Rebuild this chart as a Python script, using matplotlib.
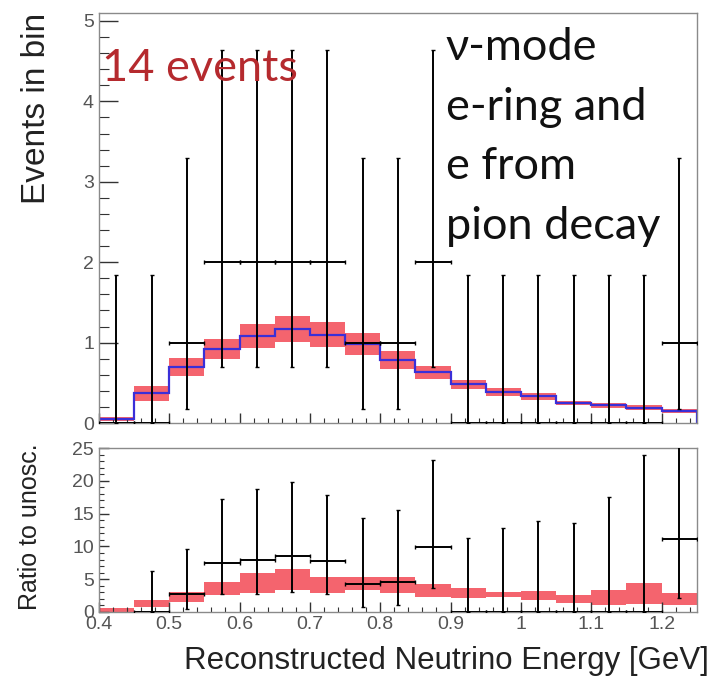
import numpy as np
import matplotlib

matplotlib.use("Agg")
import matplotlib.pyplot as plt  # noqa: E402
from matplotlib.ticker import MultipleLocator, FormatStrFormatter  # noqa: E402

# binning: 0.05 GeV bins from 0.4 to 1.25
edges = np.round(np.arange(0.40, 1.2501, 0.05), 3)
centers = (edges[:-1] + edges[1:]) / 2

# top panel: observed events and prediction
counts = [0, 0, 1, 2, 2, 2, 2, 1, 1, 2, 0, 0, 0, 0, 0, 0, 1]
count_lo = [0, 0, 0.17, 0.7, 0.7, 0.7, 0.7, 0.17, 0.17, 0.7, 0, 0, 0, 0, 0, 0, 0.17]
count_hi = [1.84, 1.84, 3.3, 4.64, 4.64, 4.64, 4.64, 3.3, 3.3, 4.64,
            1.84, 1.84, 1.84, 1.84, 1.84, 1.84, 3.3]
pred = [0.05, 0.37, 0.70, 0.92, 1.08, 1.17, 1.10, 0.98, 0.78, 0.63,
        0.48, 0.39, 0.33, 0.25, 0.22, 0.19, 0.15]
pred_err = [0.02, 0.09, 0.11, 0.13, 0.15, 0.16, 0.15, 0.14, 0.11, 0.08,
            0.06, 0.05, 0.04, 0.03, 0.03, 0.03, 0.03]

# bottom panel: ratio to unoscillated
ratio = [np.nan, 0, 2.8, 7.4, 8.0, 8.6, 7.7, 4.3, 4.6, 9.9, 0, 0, 0, 0, 0, 0, 11.2]
ratio_lo = [np.nan, 0, 0.4, 2.7, 2.8, 3.0, 2.7, 0.7, 1.0, 3.6, 0, 0, 0, 0, 0, 0, 2.1]
ratio_hi = [np.nan, 6.2, 9.6, 17.3, 18.8, 19.8, 17.8, 14.4, 15.5, 23.2,
            11.3, 12.8, 13.8, 13.6, 17.6, 23.9, 30.0]
band_c = [0.3, 1.3, 2.3, 3.6, 4.4, 5.0, 4.1, 4.4, 4.1, 3.3,
          2.9, 2.7, 2.5, 2.0, 2.2, 2.8, 2.0]
band_e = [0.3, 0.5, 0.8, 1.0, 1.5, 1.6, 1.2, 1.0, 1.2, 1.0,
          0.8, 0.4, 0.7, 0.6, 1.1, 1.6, 0.9]

BAND = "#f4646e"
BLUE = "#3a2fd8"
GREY = "#555555"

plt.rcParams["font.family"] = ["Liberation Sans", "DejaVu Sans"]

fig = plt.figure(figsize=(7.11, 6.79), dpi=100)
ax = fig.add_axes([0.139, 0.377, 0.841, 0.604])
axr = fig.add_axes([0.139, 0.0987, 0.841, 0.2415], sharex=ax)

w = np.diff(edges)

# ---- top panel
pe = np.array(pred_err)
pv = np.array(pred)
ax.bar(edges[:-1], 2 * pe, bottom=pv - pe, width=w, align="edge",
       color=BAND, linewidth=0, zorder=1)
ax.stairs(pv, edges, color=BLUE, linewidth=1.6, zorder=2)
c = np.array(counts, float)
ax.errorbar(centers, c, xerr=w / 2,
            yerr=[c - np.array(count_lo), np.array(count_hi) - c],
            fmt="none", ecolor="black", elinewidth=1.4, capsize=1.5, zorder=3)

ax.set_xlim(0.4, 1.25)
ax.set_ylim(0, 5.1)
ax.yaxis.set_major_locator(MultipleLocator(1))
ax.yaxis.set_minor_locator(MultipleLocator(0.2))
ax.set_ylabel("Events in bin", fontsize=24, loc="top", labelpad=22)
ax.tick_params(axis="x", labelbottom=False)

ax.text(0.005, 0.915, "14 events", transform=ax.transAxes, family="Lato",
        fontsize=32.5, color="#b52a2e", va="top", ha="left", zorder=5)
ax.text(0.58, 0.965, "ν-mode\ne-ring and\ne from\npion decay",
        transform=ax.transAxes, family=["Lato", "DejaVu Sans"], fontsize=32.5,
        color="#111111", va="top", ha="left", linespacing=1.56, zorder=5)

# ---- bottom panel
bc = np.array(band_c)
be = np.array(band_e)
axr.bar(edges[:-1], 2 * be, bottom=bc - be, width=w, align="edge",
        color=BAND, linewidth=0, zorder=1)
r = np.array(ratio)
axr.errorbar(centers, r, xerr=w / 2,
             yerr=[r - np.array(ratio_lo), np.array(ratio_hi) - r],
             fmt="none", ecolor="black", elinewidth=1.4, capsize=1.5, zorder=3)
axr.set_ylim(0, 25)
axr.yaxis.set_major_locator(MultipleLocator(5))
axr.yaxis.set_minor_locator(MultipleLocator(1))
axr.xaxis.set_major_locator(MultipleLocator(0.1))
axr.xaxis.set_minor_locator(MultipleLocator(0.02))
axr.xaxis.set_major_formatter(FormatStrFormatter("%g"))
axr.set_ylabel("Ratio to unosc.", fontsize=18, loc="top")
axr.yaxis.set_label_coords(-0.095, 1.03)
axr.set_xlabel("Reconstructed Neutrino Energy [GeV]", fontsize=22.5,
               loc="right")
axr.xaxis.set_label_coords(1.02, -0.21)
axr.xaxis.label.set_va("top")
axr.xaxis.label.set_color("#222222")

for a in (ax, axr):
    for s in a.spines.values():
        s.set_color("#8a8a8a")
        s.set_linewidth(1.0)
    a.tick_params(which="both", direction="in", colors="#333333",
                  labelcolor=GREY, labelsize=14, top=False, right=False)
    a.yaxis.label.set_color("#222222")

ax.tick_params(axis="y", which="major", length=14, width=1)
ax.tick_params(axis="y", which="minor", length=7, width=0.8)
ax.tick_params(axis="x", which="major", length=7, width=1)
ax.tick_params(axis="x", which="minor", length=3.5, width=0.8)
axr.tick_params(axis="y", which="major", length=7, width=1)
axr.tick_params(axis="y", which="minor", length=3.5, width=0.8)
axr.tick_params(axis="x", which="major", length=7, width=1, pad=3)
axr.tick_params(axis="x", which="minor", length=3.5, width=0.8)

fig.savefig("out.png", dpi=100)
